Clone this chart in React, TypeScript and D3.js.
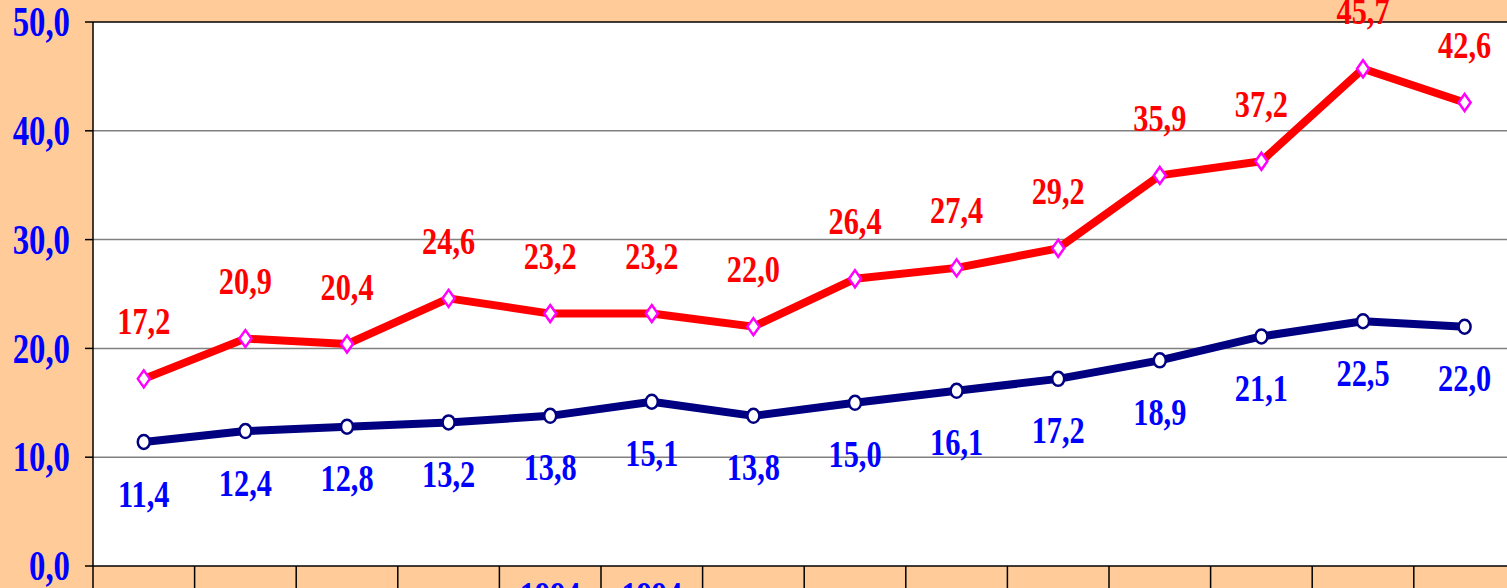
import React from "react";
import * as d3 from "d3";

const categories = ["c1", "c2", "c3", "c4", "c5", "c6", "c7", "c8", "c9", "c10", "c11", "c12", "c13", "c14"];
const categoryLabels = ["", "", "", "", "1994", "1994", "", "", "", "", "", "", "", ""];
const redSeries = [17.2, 20.9, 20.4, 24.6, 23.2, 23.2, 22.0, 26.4, 27.4, 29.2, 35.9, 37.2, 45.7, 42.6];
const blueSeries = [11.4, 12.4, 12.8, 13.2, 13.8, 15.1, 13.8, 15.0, 16.1, 17.2, 18.9, 21.1, 22.5, 22.0];
const yTicks = [0, 10, 20, 30, 40, 50];

const W = 1507;
const H = 588;
const left = 93;
const top = 22;
const bottom = 566;
const bandW = 101.6;

const fmt = (v: number) => v.toFixed(1).replace(".", ",");
const FONT = "'Liberation Serif', 'Times New Roman', serif";

export default function App() {
  const x = d3
    .scaleBand<string>()
    .domain(categories)
    .range([left, left + bandW * categories.length])
    .paddingInner(0)
    .paddingOuter(0);
  const y = d3.scaleLinear().domain([0, 50]).range([bottom, top]);
  const cx = (i: number) => (x(categories[i]) as number) + x.bandwidth() / 2;

  const line = d3
    .line<number>()
    .x((_, i) => cx(i))
    .y((d) => y(d));

  const label = (
    key: string,
    tx: number,
    cy: number,
    txt: string,
    color: string,
    anchor: string = "middle",
    fs: number = 37,
    sx: number = 0.82
  ) => (
    <text
      key={key}
      transform={`translate(${tx},${cy + fs * 0.34}) scale(${sx},1)`}
      textAnchor={anchor}
      fontFamily={FONT}
      fontWeight="bold"
      fontSize={fs}
      fill={color}
    >
      {txt}
    </text>
  );

  const plotRight = left + bandW * categories.length;

  return (
    <div style={{ position: "fixed", left: 0, top: 0 }}>
      <svg width={W} height={H} style={{ display: "block" }}>
        <rect x={0} y={0} width={W} height={H} fill="#FFCC99" />
        <rect x={left} y={top} width={plotRight - left} height={bottom - top} fill="#FFFFFF" />
        {yTicks
          .filter((t) => t > 0 && t < 50)
          .map((t) => (
            <line key={"g" + t} x1={left} x2={plotRight} y1={y(t)} y2={y(t)} stroke="#808080" strokeWidth={1.5} />
          ))}
        {/* plot border */}
        <line x1={left} x2={plotRight} y1={top} y2={top} stroke="#000" strokeWidth={1.5} />
        <line x1={left} x2={left} y1={top} y2={bottom} stroke="#000" strokeWidth={1.5} />
        <line x1={left} x2={plotRight} y1={bottom} y2={bottom} stroke="#000" strokeWidth={1.5} />
        {/* y ticks */}
        {yTicks.map((t) => (
          <line key={"yt" + t} x1={left - 8} x2={left} y1={y(t)} y2={y(t)} stroke="#000" strokeWidth={1.5} />
        ))}
        {yTicks.map((t) => label("yl" + t, 70, y(t), fmt(t), "#0000FF", "end", 42, 0.78))}
        {/* x ticks */}
        {categories.map((c) => (
          <line
            key={"xt" + c}
            x1={x(c) as number}
            x2={x(c) as number}
            y1={bottom}
            y2={H + 10}
            stroke="#000"
            strokeWidth={1.5}
          />
        ))}
        {categoryLabels.map((l, i) => (l ? label("xl" + i, cx(i), 595, l, "#0000FF") : null))}
        {/* red series */}
        <path d={line(redSeries) as string} fill="none" stroke="#FF0000" strokeWidth={8} strokeLinejoin="round" />
        {redSeries.map((v, i) => (
          <path
            key={"rm" + i}
            d={`M${cx(i)},${y(v) - 8.5} L${cx(i) + 6},${y(v)} L${cx(i)},${y(v) + 8.5} L${cx(i) - 6},${y(v)} Z`}
            fill="#FFFFFF"
            stroke="#FF00FF"
            strokeWidth={2.5}
          />
        ))}
        {/* blue series */}
        <path d={line(blueSeries) as string} fill="none" stroke="#000080" strokeWidth={8} strokeLinejoin="round" />
        {blueSeries.map((v, i) => (
          <ellipse key={"bm" + i} cx={cx(i)} cy={y(v)} rx={6} ry={7} fill="#FFFFFF" stroke="#000080" strokeWidth={2.5} />
        ))}
        {redSeries.map((v, i) => label("rl" + i, cx(i), y(v) - 57, fmt(v), "#FF0000"))}
        {blueSeries.map((v, i) => label("bl" + i, cx(i), y(v) + 52, fmt(v), "#0000FF"))}
      </svg>
    </div>
  );
}
